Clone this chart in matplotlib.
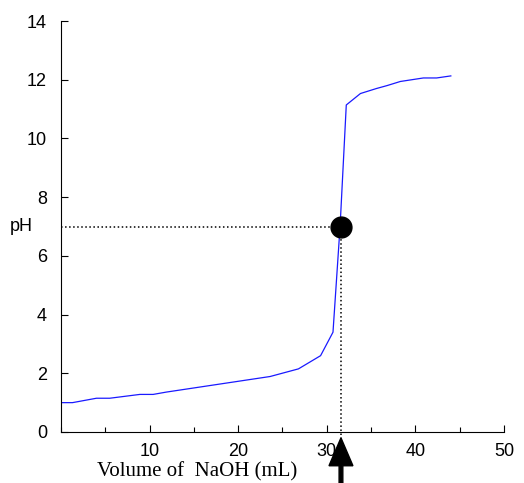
import matplotlib.pyplot as plt
from matplotlib.ticker import MultipleLocator

# Titration curve
volume = [0, 1.3, 4.0, 5.5, 8.9, 10.4, 11.9, 23.6, 26.8, 29.3, 30.7, 31.5,
          32.2, 33.8, 35.6, 36.8, 38.3, 40.9, 42.4, 44.0]
ph = [1.0, 1.0, 1.15, 1.15, 1.28, 1.28, 1.36, 1.89, 2.15, 2.6, 3.4, 7.0,
      11.14, 11.53, 11.7, 11.8, 11.94, 12.06, 12.06, 12.13]

# Equivalence point
eq_volume = 31.6
eq_ph = 7.0

x_ticks = [10, 20, 30, 40, 50]
y_ticks = [0, 2, 4, 6, 8, 10, 12, 14]

fig = plt.figure(figsize=(5.24, 4.83), dpi=100)
ax = fig.add_axes([0.1164, 0.1056, 0.8454, 0.8509])

ax.plot(volume, ph, color='#1a1aff', linewidth=0.9)

# dotted guide lines to the equivalence point
ax.plot([0, eq_volume], [eq_ph, eq_ph], color='black', linestyle=':', linewidth=1.1)
ax.plot([eq_volume, eq_volume], [eq_ph, -0.6], color='black', linestyle=':',
        linewidth=1.1, clip_on=False)
ax.plot([eq_volume], [eq_ph], 'o', color='black', markersize=15, zorder=5)

# arrow below the axis pointing at the equivalence volume
ax.arrow(eq_volume, -1.75, 0, 1.55, width=0.42, head_width=2.7, head_length=0.95,
         length_includes_head=True, color='black', clip_on=False, zorder=6)

ax.set_xlim(0, 50)
ax.set_ylim(0, 14)
ax.set_xticks(x_ticks)
ax.set_yticks(y_ticks)
ax.xaxis.set_minor_locator(MultipleLocator(5))

ax.spines['top'].set_visible(False)
ax.spines['right'].set_visible(False)
for s in ['left', 'bottom']:
    ax.spines[s].set_linewidth(0.8)

ax.tick_params(axis='both', which='major', direction='in', length=5, width=0.8,
               labelsize=13)
ax.tick_params(axis='x', which='minor', direction='in', length=3.5, width=0.8)
ax.tick_params(axis='x', which='major', pad=8)
ax.tick_params(axis='y', which='major', pad=10)

for lab in ax.get_xticklabels() + ax.get_yticklabels():
    lab.set_family('Liberation Sans')

ax.set_ylabel('pH', rotation=0, fontsize=13, family='Liberation Sans',
              ha='center', va='center')
ax.yaxis.set_label_coords(-0.089, 0.5)

fig.text(0.3754, 0.003, 'Volume of  NaOH (mL)', fontsize=15,
         family='Liberation Serif', ha='center', va='bottom')

fig.savefig('out.png', dpi=100)
